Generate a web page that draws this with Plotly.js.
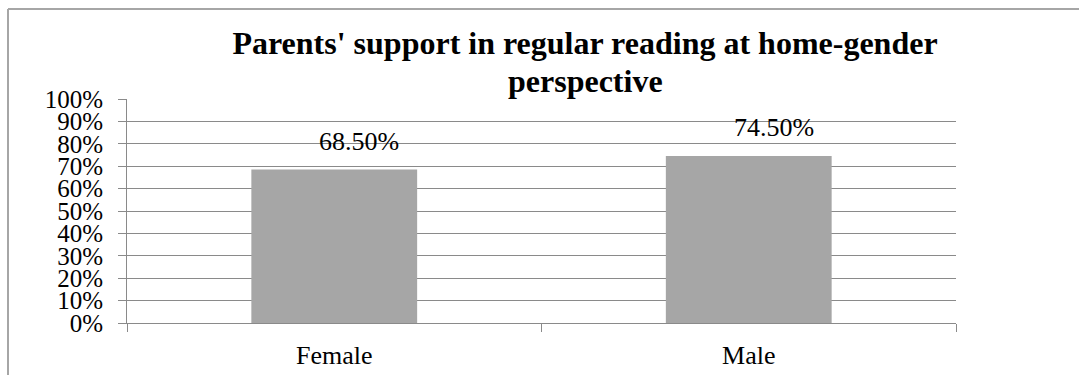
<!DOCTYPE html>
<html>
<head>
<meta charset="utf-8">
<script src="https://cdn.plot.ly/plotly-3.0.1.min.js"></script>
<style>
  html, body { margin: 0; padding: 0; background: #ffffff; }
  #chart { width: 1079px; height: 375px; }
</style>
</head>
<body>
<div id="chart"></div>
<script>
// Share of pupils whose parents support regular reading at home, by gender
const categories = ["Female", "Male"];
const shares = [0.685, 0.745];
const shareLabels = ["68.50%", "74.50%"];
const titleLine1 = "Parents' support in regular reading at home-gender";
const titleLine2 = "perspective";

const serif = "Liberation Serif, Times New Roman, serif";
const gridGrey = "#8a8a8a";

const bars = {
  type: "bar",
  x: categories,
  y: shares,
  marker: { color: "#a6a6a6", line: { width: 0 } },
  hoverinfo: "skip"
};

const valueNotes = categories.map((c, i) => ({
  x: c, y: shares[i], xref: "x", yref: "y",
  text: shareLabels[i], showarrow: false,
  yanchor: "bottom", xanchor: "center",
  xshift: 25, yshift: 12,
  font: { family: serif, size: 26, color: "#000000" }
}));

const layout = {
  width: 1079,
  height: 375,
  margin: { l: 127, r: 123, t: 99, b: 52 },
  paper_bgcolor: "#ffffff",
  plot_bgcolor: "#ffffff",
  showlegend: false,
  bargap: 0.6,
  font: { family: serif, color: "#000000" },
  title: {
    text: titleLine1,
    font: { family: serif, size: 32, color: "#000000", weight: "bold" },
    xref: "container", x: 585 / 1079, xanchor: "center",
    yref: "container", y: 0.885, yanchor: "middle"
  },
  xaxis: {
    type: "category",
    showgrid: false,
    showline: true,
    linecolor: gridGrey,
    linewidth: 1,
    ticks: "outside",
    tickson: "boundaries",
    ticklen: 8,
    tickcolor: gridGrey,
    tickfont: { family: serif, size: 26, color: "#000000" },
    ticklabelstandoff: 9,
    fixedrange: true
  },
  yaxis: {
    range: [0, 1],
    dtick: 0.1,
    tick0: 0,
    tickformat: ".0%",
    showgrid: true,
    gridcolor: gridGrey,
    gridwidth: 1,
    showline: true,
    linecolor: gridGrey,
    linewidth: 1,
    zeroline: false,
    ticks: "outside",
    ticklen: 8,
    tickcolor: gridGrey,
    tickfont: { family: serif, size: 25, color: "#000000" },
    ticklabelstandoff: 10,
    fixedrange: true
  },
  annotations: [
    {
      text: "<b>" + titleLine2 + "</b>", showarrow: false,
      xref: "paper", yref: "paper",
      x: (585 - 127) / 829, y: 1, xanchor: "center", yanchor: "bottom",
      yshift: -2,
      font: { family: serif, size: 32, color: "#000000" }
    },
    ...valueNotes
  ],
  shapes: [
    // outer chart frame (left and top edges)
    { type: "line", xref: "paper", yref: "paper", x0: -119 / 829, x1: -119 / 829,
      y0: 1 + 90 / 224, y1: -0.3, line: { color: "#a6a6a6", width: 2 }, layer: "below" },
    { type: "line", xref: "paper", yref: "paper", x0: -119 / 829, x1: 1.2,
      y0: 1 + 90 / 224, y1: 1 + 90 / 224, line: { color: "#a6a6a6", width: 2 }, layer: "below" }
  ]
};

Plotly.newPlot("chart", [bars], layout, { displayModeBar: false, staticPlot: true });
</script>
</body>
</html>
